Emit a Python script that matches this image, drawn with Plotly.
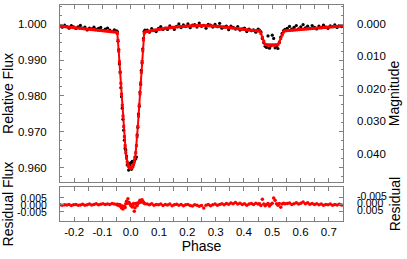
import math
import plotly.graph_objects as go

# Phases of the observations (the model is evaluated at the same phases)
phase = [
    -0.250, -0.242, -0.234, -0.226, -0.218, -0.210, -0.202, -0.194, -0.186, -0.178,
    -0.170, -0.162, -0.154, -0.146, -0.138, -0.130, -0.122, -0.114, -0.106, -0.098,
    -0.090, -0.082, -0.074, -0.066, -0.058,
    -0.0500, -0.0475, -0.0450, -0.0425, -0.0400, -0.0375, -0.0350, -0.0325, -0.0300, -0.0275,
    -0.0250, -0.0225, -0.0200, -0.0175, -0.0150, -0.0125, -0.0100, -0.0075, -0.0050, -0.0025,
    0.0000, 0.0025, 0.0050, 0.0075, 0.0100, 0.0125, 0.0150, 0.0175, 0.0200, 0.0225,
    0.0250, 0.0275, 0.0300, 0.0325, 0.0350, 0.0375, 0.0400, 0.0425, 0.0450, 0.0475, 0.0500,
    0.058, 0.066, 0.074, 0.082, 0.090, 0.098, 0.106, 0.114, 0.122, 0.130,
    0.138, 0.146, 0.154, 0.162, 0.170, 0.178, 0.186, 0.194, 0.202, 0.210,
    0.218, 0.226, 0.234, 0.242, 0.250, 0.258, 0.266, 0.274, 0.282, 0.290,
    0.298, 0.306, 0.314, 0.322, 0.330, 0.338, 0.346, 0.354, 0.362, 0.370,
    0.378, 0.386, 0.394, 0.402, 0.410, 0.418, 0.426, 0.434, 0.442, 0.450,
    0.455, 0.460, 0.465, 0.470, 0.475, 0.480, 0.485, 0.490, 0.495, 0.500,
    0.505, 0.510, 0.515, 0.520, 0.525, 0.530, 0.535, 0.540, 0.545,
    0.553, 0.561, 0.569, 0.577, 0.585, 0.593, 0.601, 0.609, 0.617, 0.625,
    0.633, 0.641, 0.649, 0.657, 0.665, 0.673, 0.681, 0.689, 0.697, 0.705,
    0.713, 0.721, 0.729, 0.737, 0.745,
]

# Observed relative flux (black dots)
flux_obs = [
    0.99965, 0.99912, 0.99968, 0.99930, 0.99885, 0.99960, 0.99922, 0.99878, 0.99925, 0.99962,
    0.99890, 0.99918, 0.99838, 0.99885, 0.99870, 0.99912, 0.99852, 0.99880, 0.99905, 0.99826,
    0.99858, 0.99890, 0.99835, 0.99800, 0.99842,
    0.99812, 0.99790, 0.99520, 0.99290, 0.98890, 0.98670, 0.98230, 0.97980, 0.97660, 0.97350,
    0.97050, 0.96770, 0.96540, 0.96500, 0.96330, 0.96080, 0.96100, 0.95940, 0.96120, 0.96060,
    0.96140, 0.95960, 0.96180, 0.96120, 0.96150, 0.96200, 0.96300, 0.96250, 0.96300, 0.96920,
    0.97120, 0.97500, 0.97710, 0.98110, 0.98320, 0.98710, 0.98920, 0.99310, 0.99600, 0.99800, 0.99830,
    0.99832, 0.99775, 0.99877, 0.99819, 0.99790, 0.99881, 0.99931, 0.99851, 0.99890, 0.99849,
    0.99947, 0.99905, 0.99852, 0.99939, 1.00005, 0.99901, 0.99976, 0.99931, 1.00005, 0.99899,
    0.99972, 0.99984, 0.99916, 1.00027, 0.99937, 0.99966, 0.99885, 0.99992, 0.99969, 0.99915,
    0.99991, 0.99926, 1.00020, 0.99884, 0.99918, 0.99941, 0.99843, 0.99946, 0.99908, 0.99860,
    0.99932, 0.99834, 0.99866, 0.99888, 0.99790, 0.99863, 0.99816, 0.99840, 0.99775, 0.99861,
    0.99830, 0.99780, 0.99600, 0.99480, 0.99380, 0.99350, 0.99670, 0.99330, 0.99390, 0.99690,
    0.99600, 0.99340, 0.99380, 0.99320, 0.99480, 0.99640, 0.99740, 0.99820, 0.99850,
    0.99880, 0.99935, 0.99860, 0.99910, 0.99960, 0.99870, 0.99925, 0.99985, 0.99895, 0.99940,
    0.99880, 0.99960, 0.99910, 0.99865, 0.99945, 0.99900, 0.99970, 0.99915, 0.99880, 0.99950,
    0.99925, 0.99975, 0.99905, 0.99960, 0.99930,
]

# Model relative flux (red line)
flux_model = [
    0.99940, 0.99935, 0.99929, 0.99922, 0.99915, 0.99908, 0.99901, 0.99894, 0.99888, 0.99881,
    0.99874, 0.99867, 0.99860, 0.99854, 0.99847, 0.99840, 0.99833, 0.99826, 0.99820, 0.99813,
    0.99806, 0.99799, 0.99792, 0.99785, 0.99779,
    0.99772, 0.99740, 0.99550, 0.99250, 0.98950, 0.98650, 0.98350, 0.98050, 0.97740, 0.97440,
    0.97150, 0.96870, 0.96620, 0.96420, 0.96270, 0.96160, 0.96090, 0.96040, 0.96010, 0.95995,
    0.95990, 0.95995, 0.96010, 0.96040, 0.96090, 0.96160, 0.96270, 0.96420, 0.96620, 0.96870,
    0.97150, 0.97440, 0.97750, 0.98060, 0.98360, 0.98660, 0.98960, 0.99260, 0.99560, 0.99750, 0.99780,
    0.99792, 0.99805, 0.99817, 0.99829, 0.99840, 0.99851, 0.99861, 0.99871, 0.99880, 0.99889,
    0.99897, 0.99905, 0.99912, 0.99919, 0.99925, 0.99931, 0.99936, 0.99941, 0.99945, 0.99949,
    0.99952, 0.99954, 0.99956, 0.99957, 0.99957, 0.99956, 0.99955, 0.99952, 0.99949, 0.99945,
    0.99941, 0.99936, 0.99930, 0.99924, 0.99918, 0.99911, 0.99903, 0.99896, 0.99888, 0.99880,
    0.99872, 0.99864, 0.99856, 0.99848, 0.99840, 0.99833, 0.99826, 0.99820, 0.99815, 0.99811,
    0.99808, 0.99740, 0.99630, 0.99520, 0.99430, 0.99420, 0.99418, 0.99417, 0.99416, 0.99416,
    0.99417, 0.99418, 0.99420, 0.99425, 0.99500, 0.99600, 0.99700, 0.99780, 0.99810,
    0.99818, 0.99823, 0.99829, 0.99834, 0.99839, 0.99844, 0.99850, 0.99855, 0.99860, 0.99866,
    0.99871, 0.99876, 0.99881, 0.99887, 0.99892, 0.99897, 0.99903, 0.99908, 0.99913, 0.99918,
    0.99924, 0.99929, 0.99934, 0.99940, 0.99945,
]

# Residual flux (bottom panel)
resid = [
    0.0001, -0.0003, 0.0002, -0.0001, 0.0004, -0.0004, 0.0001, 0.0003, -0.0002, 0.0000,
    0.0005, -0.0003, 0.0002, 0.0006, -0.0001, 0.0004, 0.0008, 0.0002, 0.0005, 0.0009,
    0.0003, 0.0007, 0.0004, 0.0010, 0.0006,
    0.0004, 0.0005, -0.0003, 0.0004, -0.0006, 0.0002, -0.0012, -0.0021, -0.0008, -0.0029,
    -0.0015, -0.0010, -0.0018, 0.0008, 0.0026, 0.0012, 0.0045, 0.0020, 0.0014, 0.0006,
    -0.0004, 0.0002, -0.0014, -0.0008, 0.0010, -0.0045, -0.0020, 0.0007, 0.0012, -0.0005,
    0.0008, 0.0015, 0.0022, 0.0033, 0.0020, 0.0028, 0.0038, 0.0025, 0.0019, 0.0012, 0.0008,
    0.0006, 0.0002, 0.0009, -0.0003, 0.0004, 0.0001, 0.0007, -0.0004, 0.0003, 0.0000,
    0.0006, -0.0005, 0.0002, 0.0005, -0.0002, 0.0004, -0.0006, 0.0001, 0.0003, -0.0004,
    -0.0007, 0.0002, -0.0003, -0.0009, -0.0004, -0.0021, -0.0002, 0.0003, -0.0005, 0.0001,
    0.0006, -0.0002, 0.0004, 0.0008, 0.0001, 0.0010, 0.0005, 0.0014, 0.0009, 0.0017,
    0.0006, 0.0012, 0.0003, 0.0009, -0.0002, 0.0007, 0.0011, 0.0004, 0.0013, 0.0006,
    0.0008, -0.0004, 0.0040, 0.0006, -0.0005, 0.0003, 0.0011, -0.0008, 0.0004, 0.0012,
    0.0050, 0.0033, 0.0009, -0.0003, 0.0010, -0.0017, 0.0006, 0.0012, 0.0008,
    0.0010, 0.0014, 0.0004, 0.0009, 0.0016, 0.0006, 0.0012, 0.0021, 0.0008, 0.0015,
    0.0005, 0.0011, 0.0003, 0.0009, 0.0002, 0.0007, -0.0003, 0.0004, 0.0001, 0.0006,
    -0.0002, 0.0003, 0.0000, 0.0005, -0.0001,
]

xticks = [-0.2, -0.1, 0.0, 0.1, 0.2, 0.3, 0.4, 0.5, 0.6, 0.7]
flux_ticks = [0.960, 0.970, 0.980, 0.990, 1.000]
mag_ticks = [0.000, 0.010, 0.020, 0.030, 0.040]
res_ticks = [-0.005, 0.000, 0.005]

flux_range = [0.9561, 1.0053]
mag_range = [-2.5 * math.log10(flux_range[0]), -2.5 * math.log10(flux_range[1])]
res_range = [-0.0115, 0.0128]

FONT = dict(family="Liberation Sans, Arial, sans-serif", size=11.5, color="black")
FRAME = "#808080"

fig = go.Figure()
fig.add_trace(go.Scatter(x=phase, y=flux_obs, mode="markers", xaxis="x2", yaxis="y",
                         marker=dict(color="black", size=3.2)))
fig.add_trace(go.Scatter(x=phase, y=flux_model, mode="lines+markers", xaxis="x2", yaxis="y",
                         line=dict(color="red", width=2),
                         marker=dict(color="red", size=3, symbol="square")))
fig.add_trace(go.Scatter(x=phase, y=resid, mode="markers", xaxis="x", yaxis="y3",
                         marker=dict(color="red", size=3.5)))
# empty traces so the right-hand axes are drawn
fig.add_trace(go.Scatter(x=[None], y=[None], xaxis="x2", yaxis="y2", hoverinfo="skip"))
fig.add_trace(go.Scatter(x=[None], y=[None], xaxis="x", yaxis="y4", hoverinfo="skip"))

common_x = dict(range=[-0.25, 0.75], showline=True, linecolor=FRAME, linewidth=1, mirror="allticks",
                ticks="inside", ticklen=4, tickcolor=FRAME, showgrid=False, zeroline=False,
                automargin=False, tickvals=xticks,
                minor=dict(ticks="inside", ticklen=2, dtick=0.05, tickcolor=FRAME))

fig.update_layout(
    width=407, height=259,
    margin=dict(l=60, r=64, t=5, b=38),
    paper_bgcolor="white", plot_bgcolor="white",
    font=FONT, showlegend=False,
    xaxis=dict(common_x, anchor="y3", ticktext=["%.1f" % v for v in xticks],
               title=dict(text="Phase", standoff=4)),
    xaxis2=dict(common_x, anchor="y", matches="x", showticklabels=False),
    yaxis=dict(domain=[0.181, 1.0], anchor="x2", range=flux_range, tickvals=flux_ticks,
               ticktext=["%.3f" % v for v in flux_ticks], showline=True, linecolor=FRAME,
               mirror="allticks", ticks="inside", ticklen=4, tickcolor=FRAME, showgrid=False,
               zeroline=False, ticklabelstandoff=10, automargin=False,
               minor=dict(ticks="inside", ticklen=2, dtick=0.0025, tickcolor=FRAME),
               title=dict(text="Relative Flux", standoff=8)),
    yaxis2=dict(overlaying="y", side="right", anchor="x2", range=mag_range, tickvals=mag_ticks,
                ticktext=["%.3f" % v for v in mag_ticks], showgrid=False, zeroline=False,
                ticks="", ticklabelstandoff=13, automargin=False,
                title=dict(text="Magnitude", standoff=4)),
    yaxis3=dict(domain=[0.0, 0.157], anchor="x", range=res_range, tickvals=res_ticks,
                ticktext=["%.3f" % v for v in res_ticks], showline=True, linecolor=FRAME,
                mirror="allticks", ticks="inside", ticklen=4, tickcolor=FRAME, showgrid=False,
                zeroline=False, ticklabelstandoff=10, automargin=False,
                tickfont=dict(size=10.5),
                title=dict(text="Residual Flux", standoff=8)),
    yaxis4=dict(overlaying="y3", side="right", anchor="x", range=[res_range[1], res_range[0]],
                tickvals=res_ticks, ticktext=["%.3f" % v for v in res_ticks], showgrid=False,
                zeroline=False, ticks="", ticklabelstandoff=13, automargin=False,
                tickfont=dict(size=10.5),
                title=dict(text="Residual", standoff=4)),
)

fig.write_html("out.html", config={"displayModeBar": False},
               post_script="document.body.style.margin='0';")
